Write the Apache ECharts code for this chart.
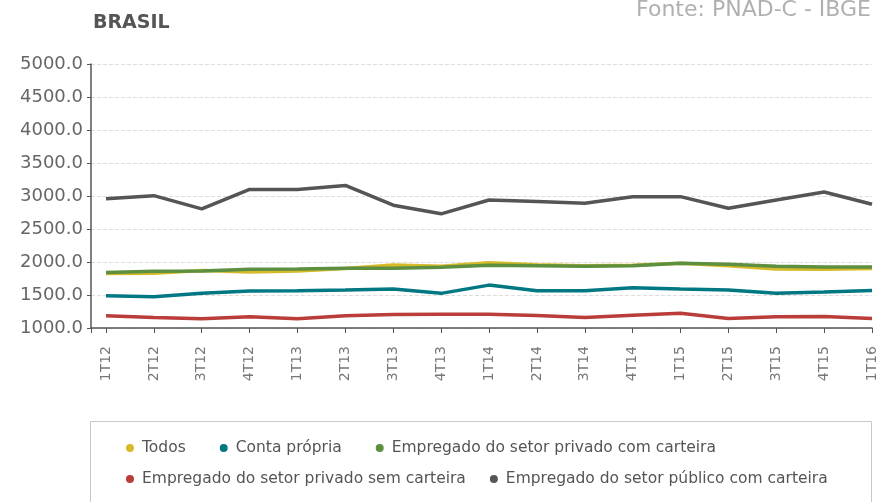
<!DOCTYPE html>
<html>
<head>
<meta charset="utf-8">
<script src="https://cdn.jsdelivr.net/npm/echarts@6/dist/echarts.min.js"></script>
<style>
  html, body { margin: 0; padding: 0; background: #fff; }
  #chart { width: 881px; height: 502px; }
</style>
</head>
<body>
<div id="chart"></div>
<script>
// trimestres
const categories = ['1T12', '2T12', '3T12', '4T12', '1T13', '2T13', '3T13', '4T13',
  '1T14', '2T14', '3T14', '4T14', '1T15', '2T15', '3T15', '4T15', '1T16']

// valores
const todos = [1825, 1830, 1870, 1850, 1865, 1900, 1955, 1935, 1990, 1960, 1945, 1950, 1980, 1945, 1895, 1890, 1900]
const contaPropria = [1490, 1475, 1525, 1560, 1565, 1575, 1590, 1525, 1650, 1565, 1565, 1610, 1590, 1575, 1525, 1545, 1570]
const privadoCom = [1840, 1860, 1865, 1890, 1895, 1905, 1905, 1920, 1950, 1945, 1935, 1945, 1980, 1965, 1935, 1925, 1925]
const privadoSem = [1185, 1160, 1140, 1170, 1140, 1185, 1205, 1210, 1210, 1190, 1160, 1195, 1225, 1145, 1170, 1175, 1145]
const publicoCom = [2960, 3005, 2805, 3100, 3100, 3160, 2860, 2730, 2940, 2915, 2890, 2990, 2990, 2815, 2940, 3060, 2875]

const seriesNames = ['Todos', 'Conta própria', 'Empregado do setor privado com carteira',
  'Empregado do setor privado sem carteira', 'Empregado do setor público com carteira']
const seriesData = [todos, contaPropria, privadoCom, privadoSem, publicoCom]
const colors = ['#d6ba2a', '#007884', '#5c9040', '#ba3d39', '#555555']

const idx = categories.map((c, i) => i)
const font = 'DejaVu Sans'
const xMin = -15 / 47.875

const legendText = { fontFamily: font, fontSize: 15.5, color: '#555', padding: [0, 0, 0, 3] }

const chart = echarts.init(document.getElementById('chart'))
chart.setOption({
  animation: false,
  color: colors,
  title: [
    {
      text: 'BRASIL',
      left: 88,
      top: 9,
      textStyle: { fontFamily: font, fontSize: 19, fontWeight: 'bold', color: '#555' }
    },
    {
      text: 'Fonte: PNAD-C - IBGE',
      right: 5,
      top: -6,
      textStyle: { fontFamily: font, fontSize: 22, fontWeight: 'normal', color: '#b0b0b0' }
    }
  ],
  legend: [
    {
      data: seriesNames.slice(0, 3),
      left: 121,
      top: 435,
      icon: 'circle',
      itemWidth: 8,
      itemHeight: 8,
      itemGap: 34,
      textStyle: legendText
    },
    {
      data: seriesNames.slice(3),
      left: 121,
      top: 466,
      icon: 'circle',
      itemWidth: 8,
      itemHeight: 8,
      itemGap: 24,
      textStyle: legendText
    }
  ],
  graphic: [
    {
      type: 'rect',
      shape: { x: 90.5, y: 421.5, width: 781, height: 100 },
      style: { fill: 'none', stroke: '#c8c8c8', lineWidth: 1 },
      z: -1
    }
  ],
  grid: { left: 91, right: 9, top: 64, bottom: 174 },
  xAxis: {
    type: 'value',
    min: xMin,
    max: categories.length - 1,
    axisLine: { show: true, onZero: false, lineStyle: { color: '#555', width: 1.5 } },
    axisTick: { show: true, length: 5, customValues: [xMin].concat(idx), lineStyle: { color: '#555' } },
    axisLabel: {
      customValues: idx,
      rotate: 90,
      margin: 18,
      formatter: v => categories[Math.round(v)],
      fontFamily: font,
      fontSize: 14,
      color: '#777'
    },
    splitLine: { show: false }
  },
  yAxis: {
    type: 'value',
    min: 1000,
    max: 5000,
    interval: 500,
    axisLine: { show: true, onZero: false, lineStyle: { color: '#555', width: 1.5 } },
    axisTick: { show: true, length: 4, lineStyle: { color: '#555' } },
    axisLabel: {
      formatter: v => v.toFixed(1),
      margin: 8,
      fontFamily: font,
      fontSize: 18,
      color: '#666'
    },
    splitLine: { show: true, lineStyle: { color: '#ddd', type: 'dashed' } }
  },
  series: seriesNames.map((name, s) => ({
    name: name,
    type: 'line',
    showSymbol: false,
    lineStyle: { width: 3.5 },
    data: seriesData[s].map((v, i) => [i, v])
  }))
})
</script>
</body>
</html>
